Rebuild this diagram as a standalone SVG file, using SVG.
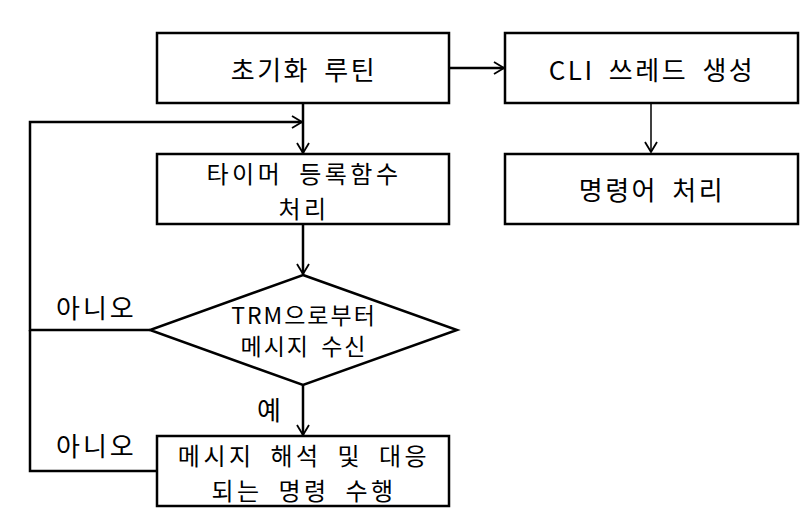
<svg xmlns="http://www.w3.org/2000/svg" width="805" height="522" viewBox="0 0 805 522">
<style>
.box{fill:#fff;stroke:#000;stroke-width:2.5}
.t{font-family:"Malgun Gothic","Noto Sans CJK KR",sans-serif;font-size:26px;fill:#000;text-anchor:middle;letter-spacing:2.5px;word-spacing:6px}
.m{font-size:24px;letter-spacing:3.5px;word-spacing:7px}
.s{font-size:23px;letter-spacing:2px;word-spacing:4px}
.l{font-family:"Malgun Gothic","Noto Sans CJK KR",sans-serif;font-size:26px;fill:#000;letter-spacing:3px}
.c{fill:none;stroke:#000;stroke-width:2.5}
.c1{fill:none;stroke:#000;stroke-width:1.5}
</style>
<defs>
<marker id="ah" markerWidth="14" markerHeight="14" refX="12" refY="7" orient="auto" markerUnits="userSpaceOnUse">
<path d="M2,1 L12,7 L2,13" fill="none" stroke="#000" stroke-width="1.8"/>
</marker>
</defs>
<rect width="805" height="522" fill="#fff"/>
<g id="connectors">
<path class="c" d="M449,68 H504" marker-end="url(#ah)"/>
<path class="c1" d="M651,103 V152" marker-end="url(#ah)"/>
<path class="c" d="M303,103 V153" marker-end="url(#ah)"/>
<path class="c" d="M150,330 H30 V122 H302" marker-end="url(#ah)"/>
<path class="c" d="M157,471 H30 V330"/>
<path class="c" d="M303,224 V274" marker-end="url(#ah)"/>
<path class="c" d="M303,385 V435" marker-end="url(#ah)"/>
</g>
<g id="init">
<rect class="box" x="157" y="33" width="292" height="70"/>
<text class="t" x="304" y="80">초기화 루틴</text>
</g>
<g id="cli">
<rect class="box" x="505" y="33" width="293" height="70"/>
<text class="t" x="652" y="80">CLI 쓰레드 생성</text>
</g>
<g id="cmd">
<rect class="box" x="505" y="154" width="293" height="70"/>
<text class="t" x="652" y="200">명령어 처리</text>
</g>
<g id="timer">
<rect class="box" x="157" y="154" width="292" height="70"/>
<text class="t m" x="304" y="183">타이머 등록함수<tspan x="304" dy="35">처리</tspan></text>
</g>
<g id="decision">
<polygon class="box" points="303,275 457,330 303,385 150,330"/>
<text class="t s" x="304" y="324">TRM으로부터<tspan x="304" dy="31">메시지 수신</tspan></text>
</g>
<g id="exec">
<rect class="box" x="157" y="436" width="292" height="70"/>
<text class="t m" x="304" y="465">메시지 해석 및 대응<tspan x="304" dy="35">되는 명령 수행</tspan></text>
</g>
<g id="labels">
<text class="l" x="56" y="318">아니오</text>
<text class="l" x="56" y="456">아니오</text>
<text class="l" x="257" y="420">예</text>
</g>
</svg>
